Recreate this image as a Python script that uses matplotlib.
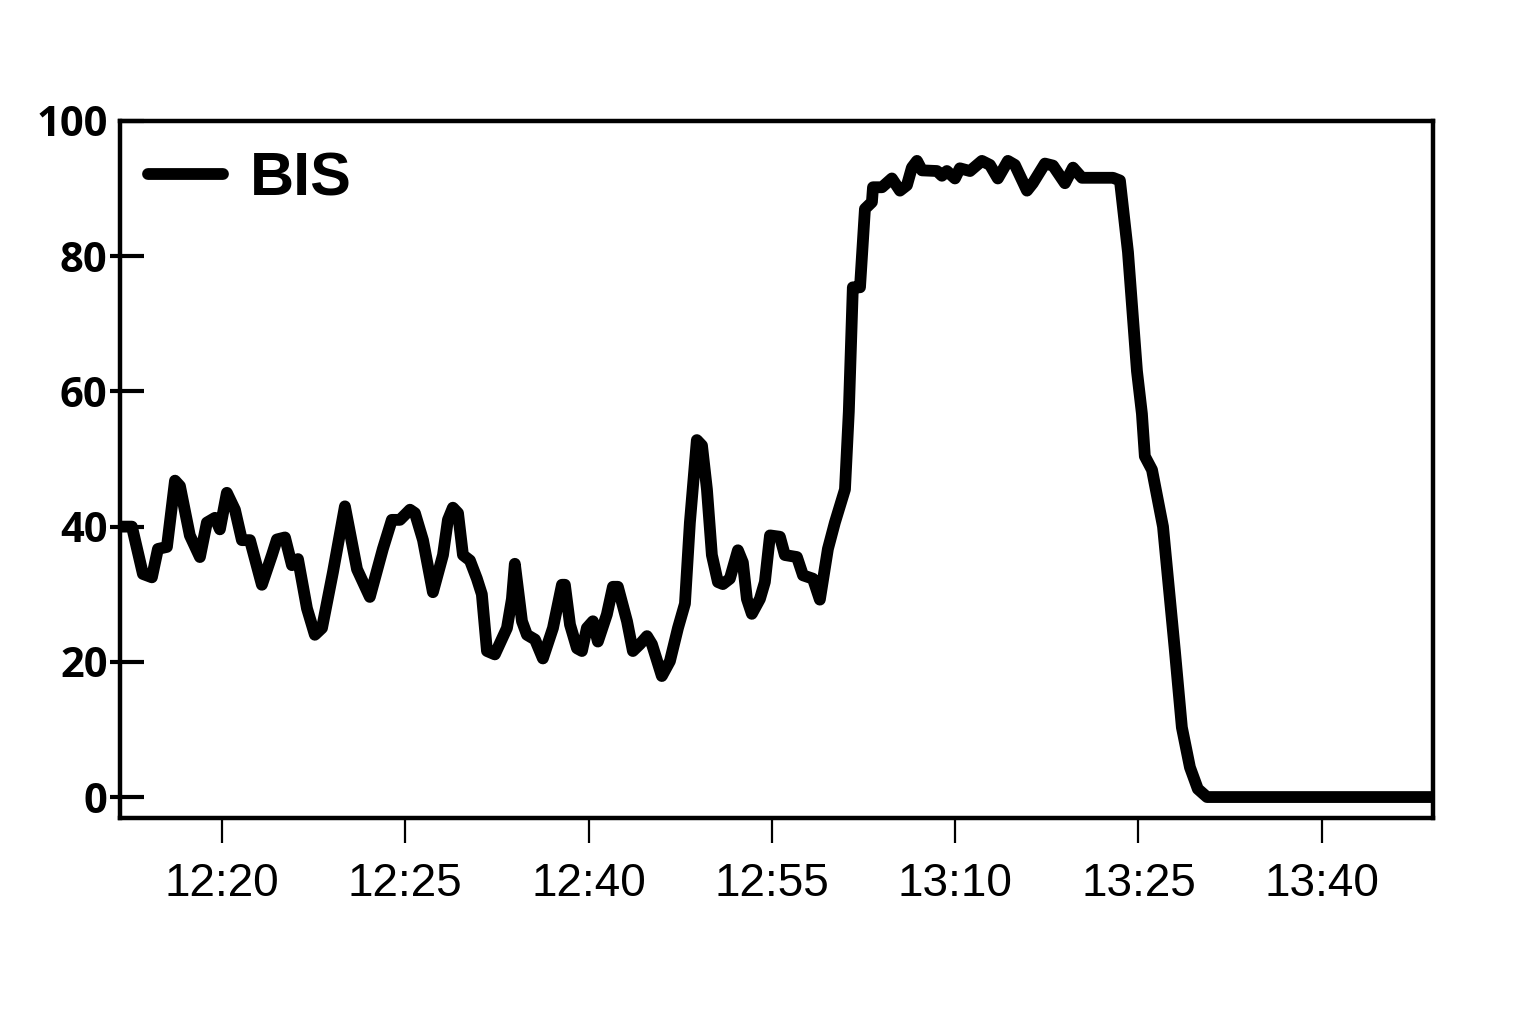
#!/usr/bin/env python
# encoding: utf-8

### BIS trace over the session, black line on white, one legend entry.

import numpy as np
import matplotlib
matplotlib.use("Agg")
import matplotlib.pyplot as plt

## data (x in tick units: 0 = 12:20, 1 = 12:25, ...)
t = [-0.556, -0.491, -0.431, -0.382, -0.349, -0.300, -0.256, -0.229, -0.175, -0.120,
	-0.082, -0.038, -0.011, 0.027, 0.071, 0.109, 0.153, 0.218, 0.273, 0.300,
	0.344, 0.382, 0.415, 0.464, 0.507, 0.546, 0.606, 0.671, 0.737, 0.807,
	0.878, 0.927, 0.971, 1.026, 1.053, 1.097, 1.151, 1.206, 1.233, 1.260,
	1.288, 1.315, 1.353, 1.391, 1.418, 1.446, 1.489, 1.555, 1.582, 1.598,
	1.637, 1.664, 1.708, 1.751, 1.806, 1.855, 1.871, 1.899, 1.937, 1.964,
	1.991, 2.024, 2.051, 2.100, 2.133, 2.160, 2.210, 2.242, 2.280, 2.319,
	2.346, 2.400, 2.444, 2.488, 2.526, 2.553, 2.591, 2.619, 2.646, 2.673,
	2.706, 2.733, 2.771, 2.815, 2.842, 2.864, 2.891, 2.935, 2.962, 2.990,
	3.044, 3.071, 3.137, 3.170, 3.224, 3.262, 3.306, 3.344, 3.399, 3.420,
	3.442, 3.481, 3.508, 3.546, 3.552, 3.601, 3.655, 3.699, 3.737, 3.764,
	3.792, 3.819, 3.901, 3.928, 3.955, 3.999, 4.026, 4.081, 4.146, 4.190,
	4.233, 4.288, 4.326, 4.392, 4.424, 4.490, 4.534, 4.599, 4.643, 4.692,
	4.861, 4.899, 4.943, 4.992, 5.019, 5.035, 5.074, 5.134, 5.183, 5.199,
	5.237, 5.281, 5.324, 5.374, 6.607]
bis = [40.0, 40.0, 33.0, 32.5, 36.7, 37.0, 46.8, 46.0, 38.7, 35.5,
	40.6, 41.3, 39.6, 45.0, 42.5, 38.0, 38.0, 31.4, 35.8, 38.1,
	38.4, 34.3, 35.2, 27.9, 24.0, 25.0, 33.3, 43.0, 33.7, 29.6,
	36.7, 41.0, 41.0, 42.5, 42.0, 38.0, 30.3, 35.8, 41.0, 42.8,
	42.0, 35.8, 35.0, 32.3, 30.0, 21.6, 21.1, 25.0, 29.3, 34.5,
	26.0, 24.0, 23.3, 20.5, 25.0, 31.4, 31.4, 25.5, 22.0, 21.6,
	25.0, 26.0, 23.0, 27.0, 31.1, 31.1, 26.0, 21.6, 22.6, 23.8,
	22.6, 17.9, 20.1, 25.0, 28.6, 40.6, 52.8, 52.0, 45.5, 35.8,
	31.8, 31.5, 32.3, 36.5, 34.7, 29.3, 27.1, 29.3, 31.8, 38.7,
	38.5, 35.8, 35.5, 32.8, 32.3, 29.2, 36.7, 40.6, 45.5, 57.0,
	75.4, 75.4, 87.0, 88.0, 90.2, 90.2, 91.5, 89.7, 90.5, 93.1,
	94.1, 92.7, 92.6, 91.9, 92.6, 91.5, 93.0, 92.6, 94.1, 93.5,
	91.5, 94.1, 93.5, 89.7, 90.8, 93.7, 93.4, 90.8, 93.1, 91.6,
	91.6, 91.2, 80.6, 63.0, 56.7, 50.4, 48.4, 40.0, 26.0, 21.6,
	10.3, 4.4, 1.2, 0.0, 0.0]
tick_labels = ["12:20", "12:25", "12:40", "12:55", "13:10", "13:25", "13:40"]
y_ticks = [0, 20, 40, 60, 80, 100]

## figure
fig = plt.figure(figsize=(15.36, 10.24), dpi=100)
ax = fig.add_axes([120/1536, 1-818/1024, 1313/1536, 697/1024])

ax.plot(t, bis, color="black", lw=8.5, solid_joinstyle="round", solid_capstyle="round", label="BIS")

ax.set_xlim(-0.556, 6.607)
ax.set_ylim(-3.1, 100)

for s in ax.spines.values():
	s.set_linewidth(3.2)

## ticks first, labels after (so the fonts stick)
ax.set_xticks(range(len(tick_labels)))
ax.tick_params(axis="x", direction="out", length=18, width=1.6, pad=14)
ax.set_yticks(y_ticks)
ax.tick_params(axis="y", which="major", direction="in", length=17, width=3, pad=9)
# short stub on the outside of the y spine
ax.yaxis.remove_overlapping_locs = False
ax.set_yticks(y_ticks[:-1], minor=True)
ax.tick_params(axis="y", which="minor", direction="out", length=7, width=3)

ax.set_xticklabels(tick_labels)
ax.set_yticklabels([str(v) for v in y_ticks])
for lbl in ax.get_xticklabels():
	lbl.set_family(["Liberation Sans", "DejaVu Sans"])
	lbl.set_fontsize(33)
for lbl in ax.get_yticklabels():
	lbl.set_family(["Open Sans", "DejaVu Sans"])
	lbl.set_fontweight("bold")
	lbl.set_fontsize(30)

## legend
leg = ax.legend(loc="center left", bbox_to_anchor=(0.0213, 0.915), frameon=False,
	handlelength=1.23, handletextpad=0.44, borderpad=0, borderaxespad=0,
	prop={"family": ["Liberation Sans", "DejaVu Sans"], "weight": "bold", "size": 44})

fig.savefig("out.png", dpi=100)
